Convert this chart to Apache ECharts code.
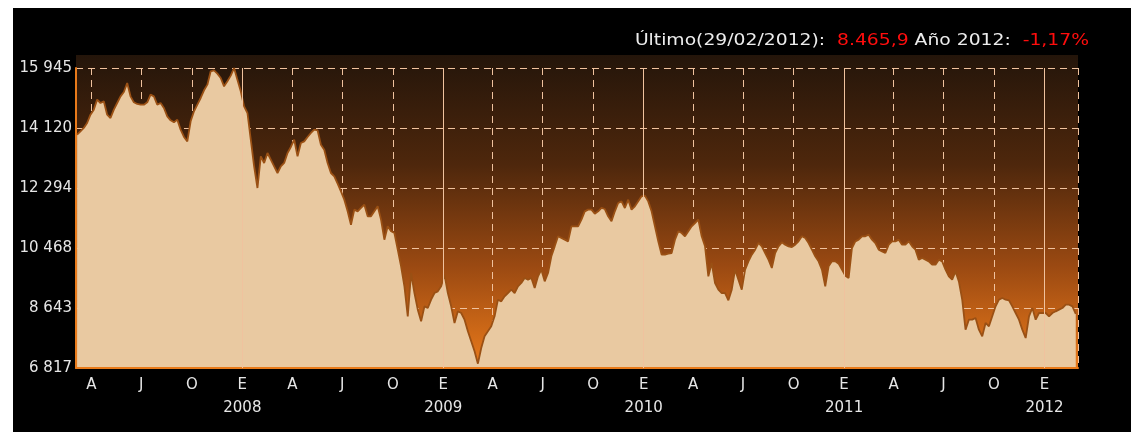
<!DOCTYPE html>
<html>
<head>
<meta charset="utf-8">
<title>IBEX</title>
<script src="https://cdn.jsdelivr.net/npm/echarts@6/dist/echarts.min.js"></script>
<style>
  html, body { margin: 0; padding: 0; background: #fff; }
  #main { width: 1141px; height: 438px; }
</style>
</head>
<body>
<div id="main"></div>
<script>
// serie de cierres, un punto cada ~6 dias desde el 6/3/2007
const firstDate = [2007, 2, 6]
const stepHours = 146
const closeValues = [
  13917, 14018, 14120, 14272, 14525, 14678, 14982, 14880, 14931, 14525,
  14424, 14678, 14880, 15083, 15215, 15489, 15083, 14901, 14850, 14830,
  14830, 14901, 15134, 15083, 14830, 14880, 14728, 14475, 14353, 14292,
  14373, 14069, 13846, 13714, 14323, 14627, 14830, 15033, 15266, 15438,
  15844, 15874, 15773, 15641, 15387, 15540, 15712, 15945, 15590, 15235,
  14779, 14576, 13765, 12953, 12294, 13258, 13055, 13359, 13156, 12953,
  12750, 12953, 13055, 13359, 13542, 13765, 13258, 13663, 13714, 13846,
  13968, 14069, 14049, 13612, 13460, 13055, 12750, 12649, 12426, 12193,
  11939, 11584, 11178, 11635, 11584, 11686, 11787, 11432, 11432, 11584,
  11736, 11331, 10722, 11128, 10976, 10925, 10418, 9911, 9302, 8390,
  9708, 9099, 8592, 8237, 8694, 8643, 8896, 9099, 9150, 9302,
  9657, 9099, 8694, 8187, 8542, 8491, 8288, 7933, 7629, 7325,
  6950, 7426, 7781, 7933, 8085, 8390, 8896, 8846, 8998, 9099,
  9201, 9099, 9302, 9404, 9556, 9505, 9556, 9252, 9606, 9809,
  9454, 9708, 10215, 10519, 10824, 10773, 10722, 10671, 11128, 11128,
  11128, 11331, 11584, 11635, 11635, 11513, 11584, 11686, 11655, 11432,
  11280, 11584, 11838, 11888, 11686, 11939, 11635, 11736, 11888, 12040,
  12061, 11888, 11584, 11128, 10671, 10266, 10266, 10296, 10316, 10722,
  10976, 10925, 10824, 10976, 11128, 11229, 11331, 10824, 10519, 9606,
  10012, 9404, 9201, 9099, 9099, 8876, 9201, 9809, 9505, 9201,
  9809, 10063, 10266, 10418, 10621, 10519, 10316, 10114, 9860, 10316,
  10519, 10641, 10570, 10519, 10499, 10570, 10671, 10824, 10773, 10621,
  10418, 10215, 10063, 9809, 9302, 9911, 10063, 10063, 9992, 9809,
  9627, 9556, 10468, 10671, 10722, 10824, 10824, 10874, 10722, 10621,
  10418, 10367, 10316, 10570, 10671, 10671, 10722, 10570, 10570, 10671,
  10519, 10418, 10114, 10164, 10114, 10063, 9961, 9961, 10114, 10063,
  9809, 9606, 9505, 9758, 9454, 8896, 7984, 8288, 8288, 8339,
  7984, 7781, 8187, 8085, 8390, 8694, 8896, 8947, 8896, 8876,
  8694, 8491, 8288, 7984, 7730, 8390, 8643, 8288, 8491, 8491,
  8491, 8390, 8491, 8542, 8592, 8643, 8744, 8744, 8694, 8465.9,
]
const xRange = ['2007-03-04', '2012-03-02']
const yearStarts = ['2008-01-01', '2009-01-01', '2010-01-01', '2011-01-01', '2012-01-01']
const yTickLabels = ['6 817', '8 643', '10 468', '12 294', '14 120', '15 945']
const yMin = 6817.5
const yInterval = 1825.5
// letras de los meses que llevan etiqueta
const monthLetters = { 0: 'E', 3: 'A', 6: 'J', 9: 'O' }

const start = new Date(firstDate[0], firstDate[1], firstDate[2]).getTime()
const seriesData = closeValues.map((v, i) => [start + i * stepHours * 3600 * 1000, v])

const chartDom = document.getElementById('main')
const myChart = echarts.init(chartDom, null, { renderer: 'canvas' })

const gridLine = '#f0c29e'
const textFont = 'DejaVu Sans'

const option = {
  animation: false,
  backgroundColor: '#fff',
  graphic: [
    {
      type: 'rect',
      z: -20,
      shape: { x: 13, y: 8, width: 1118, height: 424 },
      style: { fill: '#000' },
    },
    {
      type: 'rect',
      z: -10,
      shape: { x: 76, y: 55, width: 1002, height: 313 },
      style: {
        fill: new echarts.graphic.LinearGradient(0, 0, 0, 1, [
          { offset: 0, color: '#24150a' },
          { offset: 0.35, color: '#4e270c' },
          { offset: 0.68, color: '#9c4a12' },
          { offset: 1, color: '#ea7a1a' },
        ]),
      },
    },
    {
      // cabecera, ensanchada como la fuente de mapa de bits del original
      type: 'text',
      x: 1089,
      y: 41,
      scaleX: 1.25,
      style: {
        text: '{w|Último(29/02/2012):  }{r|8.465,9}{w| Año 2012:  }{r|-1,17%}',
        align: 'right',
        verticalAlign: 'middle',
        rich: {
          w: { fill: '#ededed', fontSize: 15, fontFamily: textFont },
          r: { fill: '#ff0d0d', fontSize: 15, fontFamily: textFont },
        },
      },
    },
  ],
  grid: {
    left: 76,
    right: 63,
    top: 68,
    bottom: 70,
  },
  xAxis: {
    type: 'time',
    z: 3,
    min: xRange[0],
    max: xRange[1],
    minInterval: 90 * 24 * 3600 * 1000,
    maxInterval: 92 * 24 * 3600 * 1000,
    axisLine: { show: true, lineStyle: { color: '#e87a1a', width: 2 } },
    axisTick: { show: false },
    axisLabel: {
      show: true,
      interval: 0,
      showMinLabel: false,
      showMaxLabel: false,
      color: '#e6e6e6',
      fontSize: 15,
      fontFamily: textFont,
      lineHeight: 23,
      margin: 6,
      formatter: (value) => {
        const d = new Date(value)
        const letter = monthLetters[d.getMonth()]
        if (letter === undefined || d.getDate() !== 1)
          return ''
        return d.getMonth() === 0 ? letter + '\n' + d.getFullYear() : letter
      },
    },
    splitLine: {
      show: true,
      lineStyle: { color: gridLine, width: 1, type: [7, 5] },
    },
  },
  yAxis: {
    type: 'value',
    z: 3,
    min: yMin,
    max: yMin + yInterval * 5,
    interval: yInterval,
    axisLine: { show: true, lineStyle: { color: '#e87a1a', width: 2 } },
    axisTick: { show: false },
    axisLabel: {
      color: '#e6e6e6',
      fontSize: 15,
      fontFamily: textFont,
      margin: 4,
      formatter: v => yTickLabels[Math.round((v - yMin) / yInterval)],
    },
    splitLine: {
      show: true,
      lineStyle: { color: gridLine, width: 1, type: [7, 5] },
    },
  },
  series: [
    {
      type: 'line',
      data: seriesData,
      showSymbol: false,
      sampling: false,
      lineStyle: { color: '#9a5014', width: 1.8 },
      areaStyle: { color: '#e9c9a1', opacity: 1, origin: 'start' },
      markLine: {
        silent: true,
        symbol: 'none',
        label: { show: false },
        lineStyle: { color: gridLine, width: 1, type: 'solid' },
        data: yearStarts.map(d => ({ xAxis: d })),
      },
    },
  ],
}

option && myChart.setOption(option)
</script>
</body>
</html>
